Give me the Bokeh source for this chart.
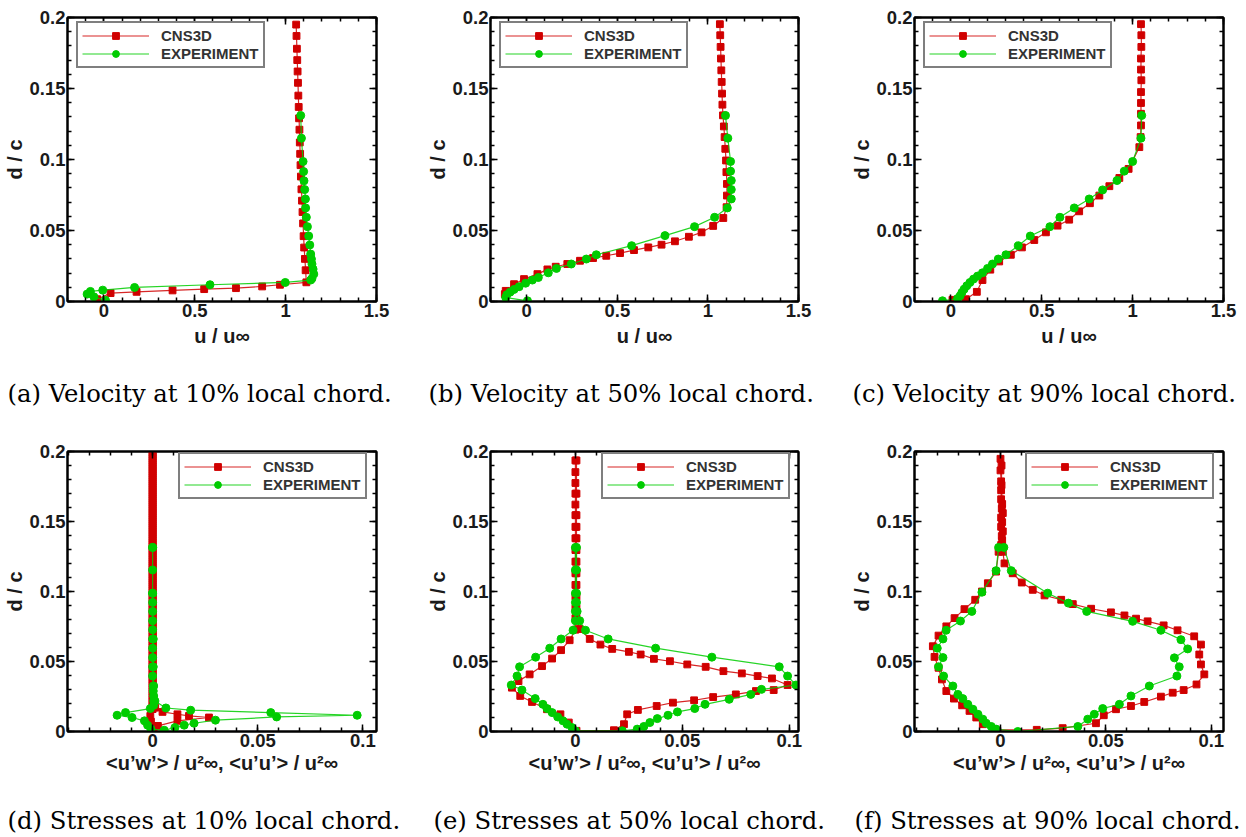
from bokeh.plotting import figure
from bokeh.models import (LinearAxis, SingleIntervalTicker, NumeralTickFormatter,
                          CustomJSTickFormatter, Range1d, Legend, LegendItem, Title)
from bokeh.layouts import column, row
from bokeh.embed import file_html
from bokeh.resources import INLINE

# ---------------- data ----------------
# (a) velocity 10% chord
a_cfd_u = [1.058, 1.060, 1.062, 1.064, 1.066, 1.068, 1.070, 1.072, 1.074, 1.076, 1.078, 1.080,
           1.082, 1.084, 1.087, 1.090, 1.093, 1.096, 1.099, 1.102, 1.106, 1.110, 1.114,
           0.969, 0.871, 0.727, 0.552, 0.378, 0.180, 0.037, -0.037]
a_cfd_d = [0.195, 0.187, 0.178, 0.170, 0.162, 0.154, 0.145, 0.137, 0.129, 0.121, 0.112, 0.104,
           0.096, 0.088, 0.079, 0.071, 0.063, 0.055, 0.046, 0.038, 0.030, 0.022, 0.0135,
           0.0118, 0.0106, 0.0094, 0.0087, 0.0078, 0.0068, 0.0059, 0.0016]
a_exp_u = [1.083, 1.087, 1.096, 1.099, 1.101, 1.105, 1.109, 1.110, 1.114, 1.120, 1.127, 1.133,
           1.138, 1.142, 1.145, 1.151, 1.155, 1.145, 1.138, 0.998, 0.584, 0.169, -0.006,
           -0.074, -0.092, -0.055, 0.009]
a_exp_d = [0.131, 0.115, 0.0986, 0.0915, 0.085, 0.0788, 0.0722, 0.0659, 0.0593, 0.0527, 0.0461,
           0.0398, 0.0334, 0.0299, 0.0264, 0.0228, 0.0193, 0.0162, 0.0151, 0.0134, 0.0118,
           0.0099, 0.0080, 0.0071, 0.0052, 0.0033, 0.0009]

# (b) velocity 50% chord
b_cfd_u = [1.066, 1.068, 1.070, 1.072, 1.074, 1.076, 1.078, 1.080, 1.083, 1.088, 1.092, 1.096,
           1.100, 1.102, 1.105, 1.105, 1.103, 1.085, 1.029, 0.965, 0.895, 0.818, 0.744, 0.671,
           0.592, 0.515, 0.439, 0.366, 0.294, 0.224, 0.160, 0.114, 0.059, -0.015, -0.070,
           -0.116, -0.121]
b_cfd_d = [0.1953, 0.1875, 0.1793, 0.1711, 0.1628, 0.1546, 0.1464, 0.1386, 0.1311, 0.1233,
           0.1158, 0.1075, 0.0993, 0.0911, 0.0828, 0.0746, 0.0664, 0.0588, 0.0532, 0.0487,
           0.0456, 0.0424, 0.0400, 0.0381, 0.0362, 0.0341, 0.0322, 0.0306, 0.0287, 0.0264,
           0.0245, 0.0226, 0.0193, 0.0158, 0.0122, 0.0075, 0.0052]
b_exp_u = [1.097, 1.110, 1.125, 1.125, 1.129, 1.129, 1.129, 1.107, 1.037, 0.926, 0.763, 0.579,
           0.384, 0.329, 0.246, 0.164, 0.119, 0.064, 0.031, -0.006, -0.042, -0.070, -0.092,
           -0.110, -0.116, 0.004]
b_exp_d = [0.131, 0.115, 0.0986, 0.0918, 0.0852, 0.0788, 0.0722, 0.0659, 0.0593, 0.0527,
           0.0464, 0.0393, 0.0329, 0.0299, 0.0264, 0.0233, 0.0202, 0.0169, 0.0151, 0.0129,
           0.0104, 0.0085, 0.0066, 0.0047, 0.0028, 0.0005]

# (c) velocity 90% chord
c_cfd_u = [1.046, 1.048, 1.048, 1.046, 1.046, 1.048, 1.046, 1.046, 1.046, 1.046, 1.044,
           1.037, 0.978, 0.927, 0.872, 0.817, 0.765, 0.706, 0.651, 0.587, 0.523, 0.459, 0.391,
           0.330, 0.266, 0.217, 0.174, 0.143, 0.083, 0.009]
c_cfd_d = [0.1953, 0.1875, 0.1793, 0.1711, 0.1633, 0.1558, 0.1475, 0.1398, 0.1322, 0.1240,
           0.1158, 0.1087, 0.0934, 0.0870, 0.0812, 0.0746, 0.0692, 0.0635, 0.0576, 0.0534,
           0.0487, 0.0433, 0.0381, 0.0329, 0.0282, 0.0224, 0.0151, 0.0068, 0.0016, 0.0012]
c_exp_u = [1.050, 1.046, 1.000, 0.954, 0.914, 0.835, 0.761, 0.679, 0.600, 0.545, 0.437, 0.371,
           0.303, 0.261, 0.229, 0.202, 0.174, 0.147, 0.125, 0.105, 0.088, 0.073, 0.061, 0.051,
           0.037, -0.046]
c_exp_d = [0.131, 0.115, 0.0986, 0.0918, 0.0852, 0.0786, 0.0722, 0.0659, 0.0593, 0.0527,
           0.0461, 0.0393, 0.0329, 0.0299, 0.0264, 0.0233, 0.0202, 0.0179, 0.0158, 0.0134,
           0.0111, 0.0087, 0.0064, 0.0040, 0.0021, 0.0005]

# (d) stresses 10% chord: <u'w'> profile (top -> wall) then <u'u'> profile (wall -> top)
d_cfd_uw_x = [0.0, 0.0, 0.0, 0.0, 0.0, 0.0, 0.0, 0.0, 0.0, 0.0, 0.0, 0.0, 0.0, 0.0, 0.0,
              0.0, 0.0, 0.0, 0.0, 0.0, 0.0, 0.0, 0.0, 0.0, 0.0, 0.0, 0.0, 0.0, 0.0, 0.0,
              0.0, 0.0, 0.0, 0.0, 0.0, 0.0, 0.0, 0.0, 0.0, 0.0, 0.0, 0.0, 0.0, 0.0, 0.0,
              0.0, 0.0, 0.0, 0.0, 0.0, 0.0, 0.0, 0.0, 0.0, 0.0, 0.0, 0.0, 0.0, 0.0, 0.0,
              0.0, 0.0, -0.0011, -0.0008, 0.0, 0.0]
d_cfd_uw_d = [0.198, 0.195, 0.192, 0.189, 0.186, 0.183, 0.180, 0.177, 0.174, 0.171, 0.168,
              0.165, 0.162, 0.159, 0.156, 0.153, 0.150, 0.147, 0.144, 0.141, 0.138, 0.135,
              0.132, 0.129, 0.126, 0.123, 0.120, 0.117, 0.114, 0.111, 0.108, 0.105, 0.102,
              0.099, 0.096, 0.093, 0.090, 0.087, 0.084, 0.081, 0.078, 0.075, 0.072, 0.069,
              0.066, 0.063, 0.060, 0.057, 0.054, 0.051, 0.048, 0.045, 0.042, 0.039, 0.036,
              0.033, 0.030, 0.027, 0.024, 0.021, 0.018, 0.016, 0.0111, 0.0070, 0.0030, 0.0005]
d_cfd_uu_x = [0.0005, 0.0025, 0.0118, 0.0268, 0.0173, 0.0118, 0.0047, 0.0012,
              0.0, 0.0, 0.0, 0.0, 0.0, 0.0, 0.0, 0.0, 0.0, 0.0, 0.0, 0.0, 0.0, 0.0, 0.0,
              0.0, 0.0, 0.0, 0.0, 0.0, 0.0, 0.0, 0.0, 0.0, 0.0, 0.0, 0.0, 0.0, 0.0, 0.0,
              0.0, 0.0, 0.0, 0.0, 0.0, 0.0, 0.0, 0.0, 0.0, 0.0, 0.0, 0.0, 0.0, 0.0, 0.0,
              0.0, 0.0, 0.0, 0.0, 0.0, 0.0, 0.0, 0.0, 0.0, 0.0, 0.0, 0.0, 0.0, 0.0, 0.0, 0.0]
d_cfd_uu_d = [0.0005, 0.0040, 0.0076, 0.0100, 0.0111, 0.0123, 0.0140, 0.0170,
              0.0195, 0.0225, 0.0255, 0.0285, 0.0315, 0.0345, 0.0375, 0.0405, 0.0435, 0.0465,
              0.0495, 0.0525, 0.0555, 0.0585, 0.0615, 0.0645, 0.0675, 0.0705, 0.0735, 0.0765,
              0.0795, 0.0825, 0.0855, 0.0885, 0.0915, 0.0945, 0.0975, 0.1005, 0.1035, 0.1065,
              0.1095, 0.1125, 0.1155, 0.1185, 0.1215, 0.1245, 0.1275, 0.1305, 0.1335, 0.1365,
              0.1395, 0.1425, 0.1455, 0.1485, 0.1515, 0.1545, 0.1575, 0.1605, 0.1635, 0.1665,
              0.1695, 0.1725, 0.1755, 0.1785, 0.1815, 0.1845, 0.1875, 0.1905, 0.1935, 0.1965,
              0.1995]
d_exp_uw_x = [0.0, 0.0, 0.0, 0.0, 0.0, 0.0, 0.0, 0.0, 0.0, 0.0, 0.0, 0.0, 0.0003, 0.0003,
              0.0005, 0.0005, 0.0005, -0.0011, -0.0129, -0.0169, -0.0098, -0.0039, -0.0024,
              -0.0008]
d_exp_uw_d = [0.1315, 0.1154, 0.0988, 0.0922, 0.0858, 0.0791, 0.0727, 0.0661, 0.0595, 0.0528,
              0.0462, 0.0396, 0.0325, 0.0289, 0.0254, 0.0218, 0.0187, 0.0164, 0.0135, 0.0116,
              0.0100, 0.0076, 0.0045, 0.0017]
d_exp_uu_x = [0.0055, 0.0106, 0.0150, 0.0197, 0.0299, 0.0590, 0.0973, 0.0562, 0.0181, 0.0063,
              0.0011, 0.0005, 0.0003, 0.0003, 0.0, 0.0]
d_exp_uu_d = [0.0009, 0.0028, 0.0045, 0.0059, 0.0081, 0.0104, 0.0116, 0.0135, 0.0152, 0.0168,
              0.0218, 0.0325, 0.0462, 0.0661, 0.0988, 0.1315]

# (e) stresses 50% chord
e_cfd_uw_x = [0.0, 0.0, 0.0, 0.0, 0.0, 0.0, 0.0, 0.0, 0.0, 0.0, 0.0, 0.0, 0.0, 0.0, 0.0, 0.0,
              -0.0027, -0.0067, -0.0109, -0.0156, -0.0214, -0.0266, -0.0297, -0.0258, -0.0203,
              -0.0133, -0.0070, -0.0031, 0.0005]
e_cfd_uw_d = [0.1936, 0.1853, 0.1775, 0.1699, 0.1621, 0.1545, 0.1462, 0.1380, 0.1296, 0.1213,
              0.1130, 0.1047, 0.0964, 0.0881, 0.0810, 0.0727, 0.0652, 0.0581, 0.0521, 0.0467,
              0.0408, 0.0360, 0.0313, 0.0254, 0.0211, 0.0159, 0.0123, 0.0064, 0.0005]
e_cfd_uu_x = [0.0180, 0.0227, 0.0242, 0.0292, 0.0380, 0.0456, 0.0555, 0.0644, 0.0750, 0.0844,
              0.0927, 0.0992, 0.0919, 0.0852, 0.0778, 0.0692, 0.0609, 0.0523, 0.0442, 0.0367,
              0.0305, 0.0250, 0.0172, 0.0117, 0.0067, 0.0020, 0.0005, 0.0005, 0.0005, 0.0005,
              0.0005, 0.0005, 0.0005, 0.0005, 0.0005, 0.0005, 0.0005, 0.0005]
e_cfd_uu_d = [0.0009, 0.0052, 0.0123, 0.0154, 0.0182, 0.0206, 0.0223, 0.0246, 0.0265, 0.0289,
              0.0296, 0.0332, 0.0379, 0.0396, 0.0415, 0.0431, 0.0462, 0.0479, 0.0502, 0.0519,
              0.0550, 0.0569, 0.0590, 0.0621, 0.0661, 0.0732, 0.0810, 0.0881, 0.0964, 0.1047,
              0.1130, 0.1213, 0.1296, 0.1380, 0.1462, 0.1545, 0.1699, 0.1936]
e_exp_uw_x = [0.0, 0.0, 0.0, 0.0, 0.0, 0.0, -0.0011, -0.0067, -0.0120, -0.0186, -0.0261,
              -0.0273, -0.0300, -0.0250, -0.0188, -0.0152, -0.0133, -0.0109, -0.0083, -0.0058,
              -0.0039, -0.0016, 0.0]
e_exp_uw_d = [0.1315, 0.1154, 0.0988, 0.0922, 0.0858, 0.0791, 0.0723, 0.0661, 0.0595, 0.0531,
              0.0462, 0.0396, 0.0332, 0.0296, 0.0235, 0.0194, 0.0164, 0.0135, 0.0104, 0.0076,
              0.0052, 0.0028, 0.0005]
e_exp_uu_x = [0.0219, 0.0289, 0.0320, 0.0348, 0.0383, 0.0433, 0.0477, 0.0558, 0.0606, 0.0719,
              0.0820, 0.0870, 0.1031, 0.0992, 0.0953, 0.0638, 0.0375, 0.0153, 0.0047, 0.0020,
              0.0008, 0.0005, 0.0005, 0.0005, 0.0005]
e_exp_uu_d = [0.0005, 0.0017, 0.0036, 0.0064, 0.0092, 0.0116, 0.0140, 0.0164, 0.0194, 0.0230,
              0.0265, 0.0301, 0.0332, 0.0396, 0.0462, 0.0531, 0.0595, 0.0661, 0.0723, 0.0791,
              0.0858, 0.0922, 0.0988, 0.1154, 0.1315]

# (f) stresses 90% chord
f_cfd_uw_x = [0.0, 0.0, 0.0003, 0.0003, 0.0003, 0.0006, 0.0003, 0.0003, 0.0006, 0.0003,
              -0.0009, -0.0021, -0.0060, -0.0088, -0.0120, -0.0171, -0.0218, -0.0257, -0.0294,
              -0.0321, -0.0313, -0.0294, -0.0278, -0.0257, -0.0221, -0.0182, -0.0147, -0.0115,
              -0.0084, -0.0028]
f_cfd_uw_d = [0.1948, 0.1865, 0.1787, 0.1723, 0.1659, 0.1592, 0.1528, 0.1462, 0.1396, 0.1332,
              0.1284, 0.1142, 0.1059, 0.1000, 0.0941, 0.0874, 0.0810, 0.0751, 0.0685, 0.0609,
              0.0533, 0.0455, 0.0372, 0.0289, 0.0235, 0.0187, 0.0147, 0.0100, 0.0052, 0.0012]
f_cfd_uu_x = [0.0172, 0.0295, 0.0453, 0.0490, 0.0548, 0.0619, 0.0682, 0.0761, 0.0817, 0.0869,
              0.0930, 0.0967, 0.0951, 0.0943, 0.0951, 0.0919, 0.0840, 0.0774, 0.0698, 0.0643,
              0.0588, 0.0524, 0.0430, 0.0343, 0.0288, 0.0209, 0.0153, 0.0101, 0.0058, 0.0019,
              0.0011, 0.0008, 0.0011, 0.0008, 0.0011, 0.0008, 0.0005, 0.0005]
f_cfd_uu_d = [0.0012, 0.0024, 0.0059, 0.0116, 0.0159, 0.0182, 0.0211, 0.0249, 0.0277, 0.0296,
              0.0336, 0.0408, 0.0479, 0.0550, 0.0621, 0.0680, 0.0723, 0.0758, 0.0787, 0.0806,
              0.0829, 0.0851, 0.0877, 0.0910, 0.0941, 0.0972, 0.1012, 0.1064, 0.1130, 0.1201,
              0.1284, 0.1364, 0.1430, 0.1495, 0.1560, 0.1625, 0.1760, 0.1900]
f_exp_uw_x = [-0.0009, -0.0021, -0.0088, -0.0136, -0.0190, -0.0258, -0.0273, -0.0300, -0.0273,
              -0.0294, -0.0270, -0.0226, -0.0202, -0.0179, -0.0155, -0.0131, -0.0107, -0.0084,
              -0.0068, -0.0044, -0.0021]
f_exp_uw_d = [0.1315, 0.1149, 0.0995, 0.0858, 0.0789, 0.0723, 0.0661, 0.0595, 0.0528, 0.0462,
              0.0396, 0.0325, 0.0265, 0.0235, 0.0194, 0.0159, 0.0123, 0.0088, 0.0059, 0.0036,
              0.0017]
f_exp_uu_x = [0.0082, 0.0367, 0.0414, 0.0445, 0.0485, 0.0564, 0.0619, 0.0706, 0.0837, 0.0848,
              0.0825, 0.0888, 0.0856, 0.0761, 0.0627, 0.0409, 0.0322, 0.0224, 0.0051, 0.0016]
f_exp_uu_d = [0.0000, 0.0036, 0.0088, 0.0123, 0.0164, 0.0194, 0.0254, 0.0325, 0.0396, 0.0462,
              0.0526, 0.0590, 0.0656, 0.0723, 0.0787, 0.0858, 0.0917, 0.0988, 0.1149, 0.1315]

series_labels = ["CNS3D", "EXPERIMENT"]
y_label = "d / c"
vel_x_label = "u / u∞"
str_x_label = "<u’w’> / u²∞, <u’u’> / u²∞"
captions = ["(a) Velocity at 10% local chord.", "(b) Velocity at 50% local chord.",
            "(c) Velocity at 90% local chord.", "(d) Stresses at 10% local chord.",
            "(e) Stresses at 50% local chord.", "(f) Stresses at 90% local chord."]

# ---------------- styling ----------------
RED = "#d00000"
GREEN = "#00cc00"
SANS = "Liberation Sans"
SERIF = "DejaVu Serif"


def style_axis(ax, labels=True):
    ax.axis_line_color = "black"
    ax.axis_line_width = 2
    ax.major_tick_in = 7
    ax.major_tick_out = 0
    ax.minor_tick_in = 4
    ax.minor_tick_out = 0
    ax.major_tick_line_color = "black"
    ax.minor_tick_line_color = "black"
    ax.major_tick_line_width = 1.5
    ax.minor_tick_line_width = 1.5
    ax.major_label_text_font = SANS
    ax.major_label_text_font_style = "bold"
    ax.major_label_text_color = "#1a1a1a"
    if labels:
        ax.major_label_text_font_size = "18.5px"
        ax.major_label_standoff = 2
    else:
        ax.major_label_text_font_size = "1px"
        ax.major_label_standoff = 0
    ax.axis_label_text_font = SANS
    ax.axis_label_text_font_style = "bold"
    ax.axis_label_text_font_size = "20px"
    ax.axis_label_text_color = "#1a1a1a"


def make_panel(cfd_x, cfd_d, exp_x, exp_d, x_start, x_end, x_interval, x_fmt, x_label,
               caption, cap_offset, width, height, left, right, top, bottom, legend_xy,
               xlabel_standoff, cap_standoff):
    p = figure(width=width, height=height, x_range=Range1d(x_start, x_end),
               y_range=Range1d(0, 0.2), output_backend="svg", toolbar_location=None,
               x_axis_type=None, y_axis_type=None,
               min_border_left=left, min_border_right=right,
               min_border_top=top, min_border_bottom=bottom)
    p.background_fill_color = "white"
    p.border_fill_color = "white"
    p.outline_line_color = "black"
    p.outline_line_width = 2

    xt = SingleIntervalTicker(interval=x_interval, num_minor_ticks=5)
    yt = SingleIntervalTicker(interval=0.05, num_minor_ticks=5)
    xb = LinearAxis(ticker=xt, formatter=NumeralTickFormatter(format=x_fmt), axis_label=x_label)
    yl = LinearAxis(ticker=yt, formatter=NumeralTickFormatter(format="0.[00]"), axis_label=y_label)
    xa = LinearAxis(ticker=xt, formatter=CustomJSTickFormatter(code="return ''"))
    yr = LinearAxis(ticker=yt, formatter=CustomJSTickFormatter(code="return ''"))
    style_axis(xb)
    style_axis(yl)
    style_axis(xa, labels=False)
    style_axis(yr, labels=False)
    xb.axis_label_standoff = xlabel_standoff
    yl.axis_label_standoff = 0
    p.add_layout(xb, "below")
    p.add_layout(yl, "left")
    p.add_layout(xa, "above")
    p.add_layout(yr, "right")

    cap = Title(text="\n" + caption, align="left", offset=cap_offset, vertical_align="top",
                standoff=cap_standoff, text_font=SERIF, text_font_size="24.3px",
                text_font_style="normal", text_color="black", text_line_height=1.0)
    p.add_layout(cap, "below")

    l1 = p.line(cfd_x, cfd_d, line_color=RED, line_width=1.2, line_alpha=0.85)
    s1 = p.scatter(cfd_x, cfd_d, marker="square", size=6.8, fill_color=RED, line_color=RED)
    l2 = p.line(exp_x, exp_d, line_color=GREEN, line_width=1.2, line_alpha=0.85)
    s2 = p.scatter(exp_x, exp_d, marker="circle", size=8, fill_color=GREEN, line_color=GREEN)

    leg = Legend(items=[LegendItem(label=series_labels[0], renderers=[l1, s1]),
                        LegendItem(label=series_labels[1], renderers=[l2, s2])],
                 location=legend_xy)
    leg.border_line_color = "black"
    leg.border_line_width = 2
    leg.background_fill_color = "white"
    leg.background_fill_alpha = 1
    leg.label_text_font = SANS
    leg.label_text_font_style = "bold"
    leg.label_text_font_size = "15px"
    leg.label_text_color = "#333333"
    leg.glyph_width = 67
    leg.glyph_height = 17
    leg.label_height = 17
    leg.label_standoff = 12
    leg.padding = 4
    leg.spacing = 1
    leg.margin = 0
    p.add_layout(leg)

    p.grid.visible = False
    return p


TOP_H, BOT_H = 434, 402
pa = make_panel(a_cfd_u, a_cfd_d, a_exp_u, a_exp_d, -0.2, 1.5, 0.5, "0.[0]", vel_x_label,
                captions[0], -60, 423, TOP_H, 67, 47, 17, 133, (9, 233), 5, 0)
pb = make_panel(b_cfd_u, b_cfd_d, b_exp_u, b_exp_d, -0.2, 1.5, 0.5, "0.[0]", vel_x_label,
                captions[1], -62, 423, TOP_H, 67, 48, 17, 133, (9, 233), 5, 0)
pc = make_panel(c_cfd_u, c_cfd_d, c_exp_u, c_exp_d, -0.2, 1.5, 0.5, "0.[0]", vel_x_label,
                captions[2], -62, 400, TOP_H, 68, 23, 17, 133, (9, 233), 5, 0)

pd = make_panel(d_cfd_uw_x + d_cfd_uu_x, d_cfd_uw_d + d_cfd_uu_d,
                d_exp_uw_x + d_exp_uu_x, d_exp_uw_d + d_exp_uu_d,
                -0.0405, 0.1065, 0.05, "0.[00]", str_x_label,
                captions[3], -60, 423, BOT_H, 67, 47, 17, 104, (111, 232), 2, 0)
pe = make_panel(e_cfd_uw_x + e_cfd_uu_x, e_cfd_uw_d + e_cfd_uu_d,
                e_exp_uw_x + e_exp_uu_x, e_exp_uw_d + e_exp_uu_d,
                -0.0397, 0.1043, 0.05, "0.[00]", str_x_label,
                captions[4], -57, 423, BOT_H, 67, 48, 17, 104, (111, 232), 2, 0)
pf = make_panel(f_cfd_uw_x + f_cfd_uu_x, f_cfd_uw_d + f_cfd_uu_d,
                f_exp_uw_x + f_exp_uu_x, f_exp_uw_d + f_exp_uu_d,
                -0.0408, 0.1058, 0.05, "0.[00]", str_x_label,
                captions[5], -60, 400, BOT_H, 68, 23, 17, 104, (111, 232), 2, 0)

layout = column(row(pa, pb, pc), row(pd, pe, pf))
open("out.html", "w").write(file_html(layout, INLINE))
